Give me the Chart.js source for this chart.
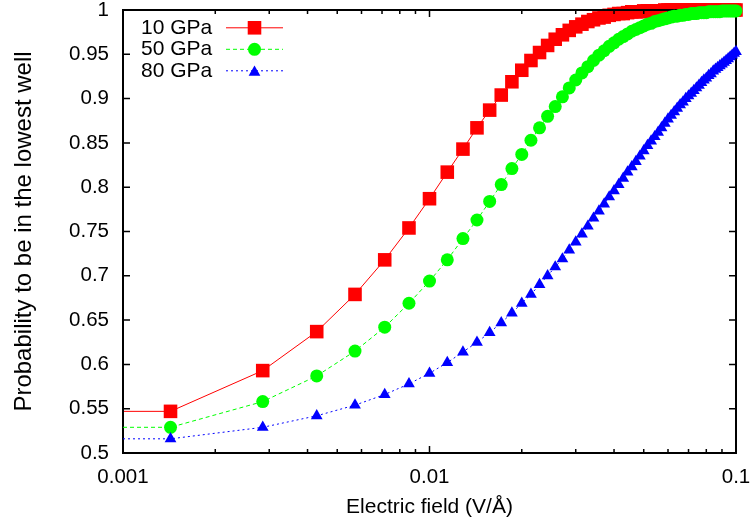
<!DOCTYPE html>
<html>
<head>
<meta charset="utf-8">
<script src="https://cdn.jsdelivr.net/npm/chart.js@4.4.1/dist/chart.umd.min.js"></script>
<style>
  html, body { margin: 0; padding: 0; background: #fff; }
  #wrap { width: 751px; height: 524px; }
</style>
</head>
<body>
<div id="wrap"><canvas id="chart" width="751" height="524"></canvas></div>
<script>
// electric field (V/Å) of each sample
const fieldValues = [
  0.001429, 0.002857, 0.004286, 0.005714, 0.007143, 0.008571, 0.010000, 0.011429, 0.012857, 0.014286,
  0.015714, 0.017143, 0.018571, 0.020000, 0.021429, 0.022857, 0.024286, 0.025714, 0.027143, 0.028571,
  0.030000, 0.031429, 0.032857, 0.034286, 0.035714, 0.037143, 0.038571, 0.040000, 0.041429, 0.042857,
  0.044286, 0.045714, 0.047143, 0.048571, 0.050000, 0.051429, 0.052857, 0.054286, 0.055714, 0.057143,
  0.058571, 0.060000, 0.061429, 0.062857, 0.064286, 0.065714, 0.067143, 0.068571, 0.070000, 0.071429,
  0.072857, 0.074286, 0.075714, 0.077143, 0.078571, 0.080000, 0.081429, 0.082857, 0.084286, 0.085714,
  0.087143, 0.088571, 0.090000, 0.091429, 0.092857, 0.094286, 0.095714, 0.097143, 0.098571, 0.100000
];

const p10GPa = [
  0.547, 0.593, 0.637, 0.679, 0.718, 0.754, 0.787, 0.817, 0.843, 0.867,
  0.887, 0.904, 0.919, 0.932, 0.943, 0.952, 0.960, 0.967, 0.972, 0.977,
  0.981, 0.984, 0.987, 0.989, 0.991, 0.992, 0.994, 0.995, 0.996, 0.996,
  0.997, 0.998, 0.998, 0.998, 0.999, 0.999, 0.999, 0.999, 0.999, 0.999,
  1.000, 1.000, 1.000, 1.000, 1.000, 1.000, 1.000, 1.000, 1.000, 1.000,
  1.000, 1.000, 1.000, 1.000, 1.000, 1.000, 1.000, 1.000, 1.000, 1.000,
  1.000, 1.000, 1.000, 1.000, 1.000, 1.000, 1.000, 1.000, 1.000, 1.000
];

const p50GPa = [
  0.529, 0.558, 0.587, 0.615, 0.642, 0.669, 0.694, 0.718, 0.742, 0.763,
  0.784, 0.803, 0.821, 0.837, 0.853, 0.867, 0.880, 0.891, 0.902, 0.912,
  0.921, 0.929, 0.936, 0.943, 0.949, 0.954, 0.959, 0.963, 0.967, 0.970,
  0.973, 0.976, 0.978, 0.980, 0.982, 0.984, 0.985, 0.987, 0.988, 0.989,
  0.990, 0.991, 0.992, 0.993, 0.993, 0.994, 0.994, 0.995, 0.995, 0.996,
  0.996, 0.996, 0.997, 0.997, 0.997, 0.997, 0.998, 0.998, 0.998, 0.998,
  0.998, 0.998, 0.999, 0.999, 0.999, 0.999, 0.999, 0.999, 0.999, 0.999
];

const p80GPa = [
  0.516, 0.529, 0.542, 0.554, 0.566, 0.578, 0.590, 0.602, 0.614, 0.625,
  0.636, 0.647, 0.658, 0.669, 0.679, 0.690, 0.700, 0.710, 0.719, 0.729,
  0.738, 0.747, 0.756, 0.765, 0.773, 0.781, 0.789, 0.796, 0.803, 0.810,
  0.817, 0.823, 0.829, 0.835, 0.841, 0.847, 0.852, 0.857, 0.862, 0.867,
  0.872, 0.877, 0.881, 0.885, 0.889, 0.893, 0.896, 0.900, 0.903, 0.906,
  0.909, 0.912, 0.915, 0.918, 0.921, 0.923, 0.926, 0.928, 0.931, 0.933,
  0.935, 0.937, 0.939, 0.941, 0.943, 0.945, 0.947, 0.949, 0.951, 0.953
];

const seriesLabels = ['10 GPa', '50 GPa', '80 GPa'];
const xTicks = [0.001, 0.01, 0.1];
const yTicks = [0.5, 0.55, 0.6, 0.65, 0.7, 0.75, 0.8, 0.85, 0.9, 0.95, 1];

const FAMILY = "'Liberation Sans', Arial, Helvetica, sans-serif";
const X_MIN = xTicks[0];
const X_MAX = xTicks[xTicks.length - 1];

const styles = [
  { color: '#ff0000', shape: 'rect', radius: 9.6, dash: [] },
  { color: '#00ff00', shape: 'circle', radius: 6.5, dash: [4, 3] },
  { color: '#0000ff', shape: 'triangle', radius: 6.8, dash: [2, 3] }
];

function makeSeries(i, values) {
  const st = styles[i];
  // gnuplot carries the first value back to the left edge of the frame
  const pts = [{ x: X_MIN, y: values[0] }].concat(values.map((v, k) => ({ x: fieldValues[k], y: v })));
  return {
    label: seriesLabels[i],
    data: pts,
    borderColor: st.color,
    backgroundColor: st.color,
    pointBackgroundColor: st.color,
    borderWidth: 1,
    borderDash: st.dash,
    pointStyle: st.shape,
    pointRadius: ctx => ctx.dataIndex === 0 ? 0 : st.radius,
    pointBorderWidth: 0,
    tension: 0,
    fill: false,
    clip: false,
    order: 3 - i
  };
}

// keep tick labels from pushing the plot frame inwards
function noLabelPadding(s) {
  s.paddingTop = 0; s.paddingBottom = 0; s.paddingLeft = 0; s.paddingRight = 0;
}

// inward tick marks on all four sides plus the frame, drawn right after the first series
const frameTicks = {
  id: 'frameTicks',
  afterDatasetDraw(chart, args) {
    if (args.index !== 0) return;
    const { ctx, chartArea: { left, right, top, bottom } } = chart;
    const xs = chart.scales.x, ys = chart.scales.y;
    ctx.save();
    ctx.strokeStyle = '#000';
    ctx.lineWidth = 1.5;
    ctx.beginPath();
    yTicks.forEach(v => {
      const py = ys.getPixelForValue(v);
      ctx.moveTo(left, py); ctx.lineTo(left + 7, py);
      ctx.moveTo(right, py); ctx.lineTo(right - 7, py);
    });
    xTicks.forEach((d, n) => {
      const steps = n < xTicks.length - 1 ? 9 : 1;
      for (let m = 1; m <= steps; m++) {
        const px = xs.getPixelForValue(d * m);
        const len = m === 1 ? 7 : 4;
        ctx.moveTo(px, bottom); ctx.lineTo(px, bottom - len);
        ctx.moveTo(px, top); ctx.lineTo(px, top + len);
      }
    });
    ctx.stroke();
    ctx.lineWidth = 2;
    ctx.strokeRect(left, top, right - left, bottom - top);
    ctx.restore();
  }
};

// gnuplot style key: label, then a line sample with the marker in the middle
const gnuKey = {
  id: 'gnuKey',
  afterDraw(chart) {
    const ctx = chart.ctx;
    ctx.save();
    ctx.font = '21px ' + FAMILY;
    ctx.textAlign = 'left';
    ctx.textBaseline = 'middle';
    chart.data.datasets.forEach((ds, i) => {
      const st = styles[i];
      const y = 27.8 + i * 21.5;
      ctx.fillStyle = '#000';
      ctx.fillText(ds.label, 141, y);
      ctx.strokeStyle = st.color;
      ctx.lineWidth = 1;
      ctx.setLineDash(st.dash);
      ctx.beginPath();
      ctx.moveTo(226, y); ctx.lineTo(283, y);
      ctx.stroke();
      ctx.setLineDash([]);
      ctx.fillStyle = st.color;
      const my = st.shape === 'triangle' ? y + 1.5 : y;
      Chart.helpers.drawPoint(ctx, { pointStyle: st.shape, radius: st.radius, rotation: 0, borderWidth: 0 }, 254.5, my);
    });
    ctx.restore();
  }
};

new Chart(document.getElementById('chart'), {
  type: 'line',
  data: {
    datasets: [makeSeries(0, p10GPa), makeSeries(1, p50GPa), makeSeries(2, p80GPa)]
  },
  options: {
    responsive: false,
    animation: false,
    devicePixelRatio: 1,
    events: [],
    layout: { padding: { left: 0, top: 10, right: 15, bottom: 0 } },
    plugins: { legend: { display: false }, tooltip: { enabled: false } },
    scales: {
      x: {
        type: 'logarithmic',
        min: X_MIN,
        max: X_MAX,
        afterBuildTicks: s => { s.ticks = xTicks.map(v => ({ value: v, major: true })); },
        afterFit: s => { s.height = 71; noLabelPadding(s); },
        grid: { display: false, drawTicks: false },
        border: { display: false },
        ticks: {
          color: '#000', padding: 14, maxRotation: 0, autoSkip: false,
          font: { family: FAMILY, size: 20.5, lineHeight: 1 },
          callback: v => String(v)
        },
        title: {
          display: true, text: 'Electric field (V/Å)', color: '#000',
          font: { family: FAMILY, size: 21 }, padding: { top: 0, bottom: 4.3 }
        }
      },
      y: {
        min: 0.5,
        max: 1,
        afterBuildTicks: s => { s.ticks = yTicks.map(v => ({ value: v })); },
        afterFit: s => { s.width = 123; noLabelPadding(s); },
        grid: { display: false, drawTicks: false },
        border: { display: false },
        ticks: {
          color: '#000', padding: 14,
          font: { family: FAMILY, size: 20.5, lineHeight: 1 },
          callback: v => String(v)
        },
        title: {
          display: true, text: 'Probability to be in the lowest well', color: '#000',
          font: { family: FAMILY, size: 24 }, padding: { top: 9.6, bottom: 0 }
        }
      }
    }
  },
  plugins: [frameTicks, gnuKey]
});
</script>
</body>
</html>
